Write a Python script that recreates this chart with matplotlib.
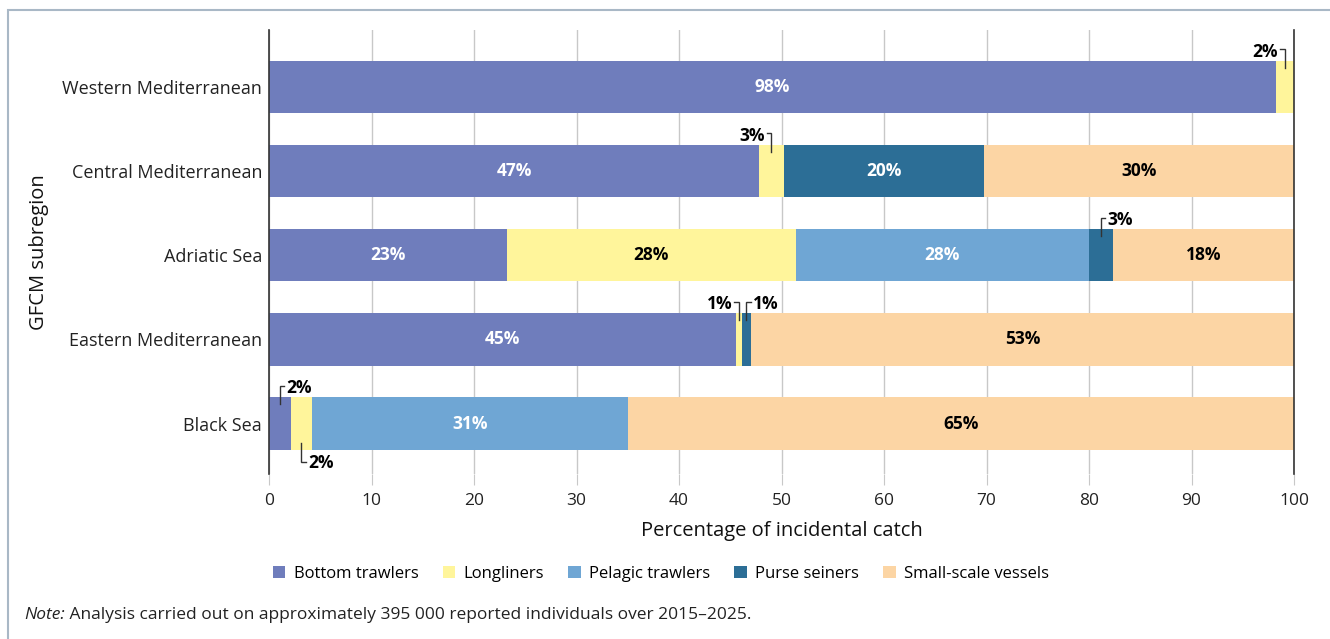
import matplotlib
matplotlib.use("Agg")
import matplotlib.pyplot as plt
from matplotlib.patches import Rectangle, Patch

plt.rcParams['font.family'] = ['Open Sans', 'DejaVu Sans']

regions = ["Western Mediterranean", "Central Mediterranean", "Adriatic Sea",
           "Eastern Mediterranean", "Black Sea"]
gears = ["Bottom trawlers", "Longliners", "Pelagic trawlers", "Purse seiners",
         "Small-scale vessels"]
colors = ["#6f7dbc", "#fff59b", "#6fa6d4", "#2c6e96", "#fcd5a4"]
text_colors = ["white", "black", "white", "white", "black"]

# values per gear, in the order of regions
bottom_trawlers = [98.2, 47.8, 23.2, 45.6, 2.1]
longliners = [1.8, 2.4, 28.2, 0.5, 2.1]
pelagic_trawlers = [0.0, 0.0, 28.6, 0.0, 30.8]
purse_seiners = [0.0, 19.6, 2.3, 0.9, 0.0]
small_scale = [0.0, 30.2, 17.7, 53.0, 65.0]

# printed labels
labels_bottom = ["98%", "47%", "23%", "45%", "2%"]
labels_long = ["2%", "3%", "28%", "1%", "2%"]
labels_pel = ["", "", "28%", "", "31%"]
labels_purse = ["", "20%", "3%", "1%", ""]
labels_small = ["", "30%", "18%", "53%", "65%"]

series = [bottom_trawlers, longliners, pelagic_trawlers, purse_seiners, small_scale]
series_labels = [labels_bottom, labels_long, labels_pel, labels_purse, labels_small]

# small segments labelled outside the bar: (region idx, gear idx, side, above)
outside = [(0, 1, "left", True), (1, 1, "left", True), (2, 3, "right", True),
           (3, 1, "left", True), (3, 3, "right", True), (4, 0, "right", True),
           (4, 1, "right", False)]

W, H = 1330, 639
fig = plt.figure(figsize=(W / 100, H / 100), dpi=100)
ax = fig.add_axes([269 / W, 1 - 474 / H, (1294 - 269) / W, (474 - 30) / H])

bar_h = 0.62
ypos = list(range(len(regions)))
lefts = [0.0] * len(regions)
for gi, vals in enumerate(series):
    ax.barh(ypos, vals, left=lefts, height=bar_h, color=colors[gi],
            label=gears[gi], zorder=3, linewidth=0)
    for ri, v in enumerate(vals):
        lab = series_labels[gi][ri]
        if v > 0 and lab and not any(o[0] == ri and o[1] == gi for o in outside):
            ax.text(lefts[ri] + v / 2, ri, lab, ha="center", va="center",
                    color=text_colors[gi], fontsize=12.5, fontweight="bold", zorder=4)
    lefts = [l + v for l, v in zip(lefts, vals)]

# outside labels with elbow leaders
starts = {}
acc = [0.0] * len(regions)
for gi, vals in enumerate(series):
    for ri, v in enumerate(vals):
        starts[(ri, gi)] = (acc[ri], v)
    acc = [a + v for a, v in zip(acc, vals)]

for ri, gi, side, above in outside:
    s, v = starts[(ri, gi)]
    xc = s + v / 2
    if above:
        y0 = ri - bar_h / 2 + 0.08
        y1 = ri - 0.45
        yt = ri - 0.42
    else:
        y0 = ri + bar_h / 2 - 0.08
        y1 = ri + 0.46
        yt = ri + 0.47
    dx = 0.45 if side == "right" else -0.45
    ax.plot([xc, xc, xc + dx], [y0, y1, y1], color="#333333", lw=1.0,
            zorder=5, solid_joinstyle="miter")
    ax.text(xc + dx + (0.2 if side == "right" else -0.2), yt,
            series_labels[gi][ri], ha="left" if side == "right" else "right",
            va="center", fontsize=12.5, fontweight="bold", color="black", zorder=5)

ax.set_xlim(0, 100)
ax.set_ylim(4.6, -0.68)
ax.set_yticks(ypos)
ax.set_yticklabels(regions, fontsize=13, color="#222222")
ax.set_xticks(range(0, 101, 10))
ax.tick_params(axis="x", labelsize=12.5, length=8, color="#c8c8c8", pad=6,
               labelcolor="#222222")
ax.tick_params(axis="y", length=0, pad=5)
ax.grid(axis="x", color="#c8c8c8", lw=1, zorder=0)
for sp in ["top", "bottom"]:
    ax.spines[sp].set_visible(False)
for sp in ["left", "right"]:
    ax.spines[sp].set_color("#333333")
    ax.spines[sp].set_linewidth(1.2)
    ax.spines[sp].set_zorder(6)
ax.set_xlabel("Percentage of incidental catch", fontsize=14.5, labelpad=8,
              color="#111111")
ax.set_ylabel("GFCM subregion", fontsize=14.5, color="#111111")
ax.yaxis.set_label_coords(-0.215, 0.5)

handles = [Patch(facecolor=c, label=g) for c, g in zip(colors, gears)]
fig.legend(handles=handles, loc="center", bbox_to_anchor=(0.497, 1 - 574 / H),
           ncol=5, frameon=False, fontsize=12, handlelength=0.75,
           handleheight=0.75, handletextpad=0.5, columnspacing=1.45)

t1 = fig.text(24 / W, 1 - 615 / H, "Note:", fontsize=12.5, style="italic",
              va="center", ha="left", color="#222222")
ax.annotate(" Analysis carried out on approximately 395\u00a0000 reported individuals over 2015\u20132025.",
            xy=(1, 0.5), xycoords=t1, va="center", ha="left", fontsize=12.5,
            color="#222222", annotation_clip=False)

fig.patches.append(Rectangle((8 / W, -0.05), 1.2, 1 - 10 / H + 0.05,
                             transform=fig.transFigure, fill=False,
                             edgecolor="#a9b8c6", lw=1.5))

fig.savefig("out.png", dpi=100)
